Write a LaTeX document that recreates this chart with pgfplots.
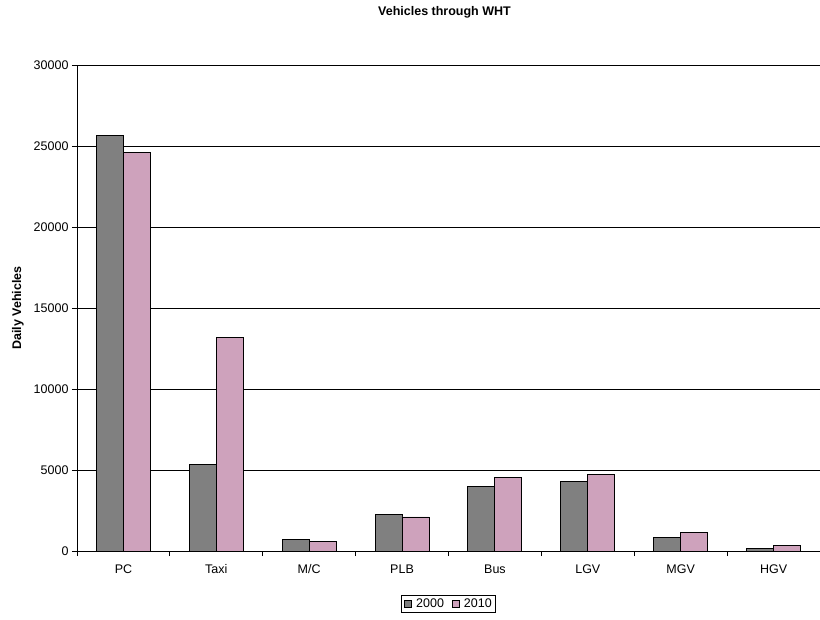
\documentclass[border=0pt]{standalone}
\usepackage{pgfplots}
\pgfplotsset{compat=1.18}
\usepackage{fontspec}
\setmainfont{Liberation Sans}
\definecolor{bargray}{RGB}{128,128,128}
\definecolor{barpink}{RGB}{206,162,188}
\newcommand\fs{\fontsize{12.5bp}{14.5bp}\selectfont}
\begin{document}
\begin{tikzpicture}
\path[use as bounding box] (-77bp,-69bp) rectangle (743bp,551bp);
\begin{axis}[
  at={(0,0)}, anchor=south west,
  scale only axis, width=743bp, height=486bp,
  xmin=-0.5, xmax=7.5, ymin=0, ymax=30000,
  ybar=0pt, bar width=27bp,
  axis x line*=bottom, axis y line*=left,
  axis line style={black, line width=0.8bp, -},
  xtick={0,...,7},
  xticklabels={PC,Taxi,M/C,PLB,Bus,LGV,MGV,HGV},
  major x tick style={draw=none},
  minor xtick={-0.5,0.5,...,7.5},
  minor x tick style={black, line width=0.8bp},
  minor tick length=5bp,
  ytick={0,5000,...,30000},
  y tick style={black, line width=0.8bp},
  major tick length=5bp,
  tick align=outside,
  ymajorgrids, grid style={black, line width=0.8bp},
  scaled y ticks=false,
  /pgf/number format/assume math mode=true,
  /pgf/number format/set thousands separator={},
  tick label style={font=\fs},
  xticklabel style={yshift=-5bp},
  ylabel={\textbf{Daily Vehicles}},
  ylabel style={at={(axis description cs:-0.0794,0.5)}, anchor=center, rotate=0, font=\fs},
  title={\textbf{Vehicles through WHT}},
  title style={at={(axis description cs:0.5,1)}, anchor=center, yshift=47bp, xshift=-4bp, font=\fs},
  legend style={at={(axis description cs:0.5,-0.109)}, anchor=center, legend columns=2, draw=black, line width=0.8bp, font=\fs, inner xsep=2bp, inner ysep=1bp, /tikz/every even column/.append style={column sep=5bp}},
  legend image code/.code={\path[draw=none, fill=none] (-1bp,0) -- (10bp,0); \draw[#1, line width=0.8bp] (0bp,-3.5bp) rectangle (7bp,3.5bp);},
]
\addplot[fill=bargray, draw=black, line width=0.9bp] coordinates {(0,25650) (1,5350) (2,700) (3,2250) (4,4000) (5,4300) (6,850) (7,150)};
\addplot[fill=barpink, draw=black, line width=0.9bp] coordinates {(0,24600) (1,13200) (2,600) (3,2100) (4,4550) (5,4700) (6,1150) (7,350)};
\legend{2000,2010}
\end{axis}
\end{tikzpicture}
\end{document}
